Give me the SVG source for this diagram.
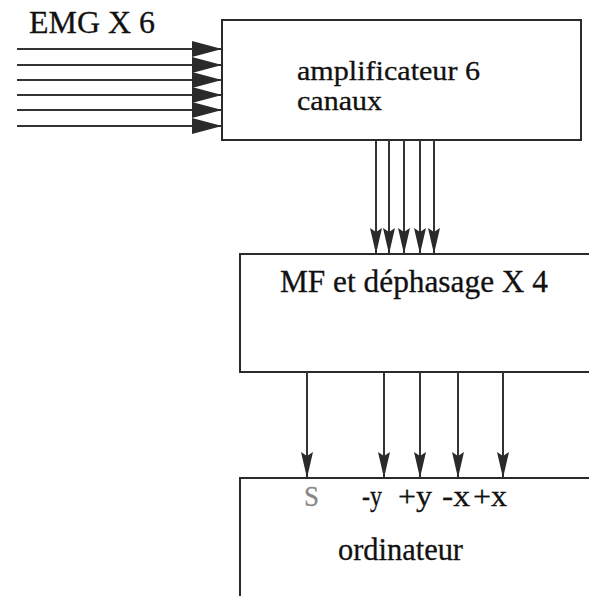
<svg xmlns="http://www.w3.org/2000/svg" width="589" height="596" viewBox="0 0 589 596">
<defs>
<style>
.box{fill:#fff;stroke:#2a2a2a;stroke-width:2}
.wire{stroke:#333;stroke-width:2;fill:none}
.t{font-family:"Liberation Serif","Times New Roman",serif;font-size:31px;fill:#111;stroke:#111;stroke-width:0.3}
.t2{font-family:"Liberation Serif","Times New Roman",serif;font-size:27px;fill:#111;stroke:#111;stroke-width:0.3}
.lbl{font-family:"Liberation Serif","Times New Roman",serif;font-size:30px;fill:#111;stroke:#111;stroke-width:0.3}
</style>
<marker id="ah" markerUnits="userSpaceOnUse" viewBox="0 0 30 16" markerWidth="30" markerHeight="16" refX="30" refY="8" orient="auto">
<path d="M0,0 L30,8 L0,16 z" fill="#2a2a2a"/>
</marker>
<marker id="av" markerUnits="userSpaceOnUse" viewBox="0 0 26 12" markerWidth="26" markerHeight="12" refX="26" refY="6" orient="auto">
<path d="M0,0 L26,6 L0,12 L4,6 z" fill="#2a2a2a"/>
</marker>
</defs>
<rect width="589" height="596" fill="#fff"/>
<g id="label-emg"><text class="t" x="29" y="33" textLength="126" lengthAdjust="spacingAndGlyphs">EMG X 6</text></g>
<g id="amplificateur">
<rect class="box" x="222" y="20" width="359" height="120"/>
<text class="t2" x="297" y="80" textLength="183" lengthAdjust="spacingAndGlyphs">amplificateur 6</text>
<text class="t2" x="297" y="110" textLength="85" lengthAdjust="spacingAndGlyphs">canaux</text>
</g>
<g id="mf">
<rect class="box" x="240" y="254" width="360" height="118"/>
<text class="t" x="280" y="292" textLength="268" lengthAdjust="spacingAndGlyphs">MF et déphasage X 4</text>
</g>
<g id="ordinateur">
<rect class="box" x="240" y="478" width="360" height="130"/>
<text class="lbl" x="304" y="506" textLength="15" lengthAdjust="spacingAndGlyphs" style="fill:#888;stroke:#888">S</text>
<text class="lbl" x="362" y="506" textLength="20" lengthAdjust="spacingAndGlyphs">-y</text>
<text class="lbl" x="398" y="506" textLength="34" lengthAdjust="spacingAndGlyphs">+y</text>
<text class="lbl" x="442" y="506" textLength="28" lengthAdjust="spacingAndGlyphs">-x</text>
<text class="lbl" x="473" y="506" textLength="34" lengthAdjust="spacingAndGlyphs">+x</text>
<text class="t" x="338" y="560" textLength="125" lengthAdjust="spacingAndGlyphs">ordinateur</text>
</g>
<g id="connectors">
<line class="wire" x1="17" y1="49" x2="222" y2="49" marker-end="url(#ah)"/>
<line class="wire" x1="17" y1="65" x2="222" y2="65" marker-end="url(#ah)"/>
<line class="wire" x1="17" y1="80" x2="222" y2="80" marker-end="url(#ah)"/>
<line class="wire" x1="17" y1="95" x2="222" y2="95" marker-end="url(#ah)"/>
<line class="wire" x1="17" y1="110" x2="222" y2="110" marker-end="url(#ah)"/>
<line class="wire" x1="17" y1="126" x2="222" y2="126" marker-end="url(#ah)"/>
<line class="wire" x1="376" y1="140" x2="376" y2="254" marker-end="url(#av)"/>
<line class="wire" x1="389" y1="140" x2="389" y2="254" marker-end="url(#av)"/>
<line class="wire" x1="404" y1="140" x2="404" y2="254" marker-end="url(#av)"/>
<line class="wire" x1="420" y1="140" x2="420" y2="254" marker-end="url(#av)"/>
<line class="wire" x1="434" y1="140" x2="434" y2="254" marker-end="url(#av)"/>
<line class="wire" x1="307" y1="372" x2="307" y2="478" marker-end="url(#av)"/>
<line class="wire" x1="384" y1="372" x2="384" y2="478" marker-end="url(#av)"/>
<line class="wire" x1="420" y1="372" x2="420" y2="478" marker-end="url(#av)"/>
<line class="wire" x1="458" y1="372" x2="458" y2="478" marker-end="url(#av)"/>
<line class="wire" x1="503" y1="372" x2="503" y2="478" marker-end="url(#av)"/>
</g>
</svg>
